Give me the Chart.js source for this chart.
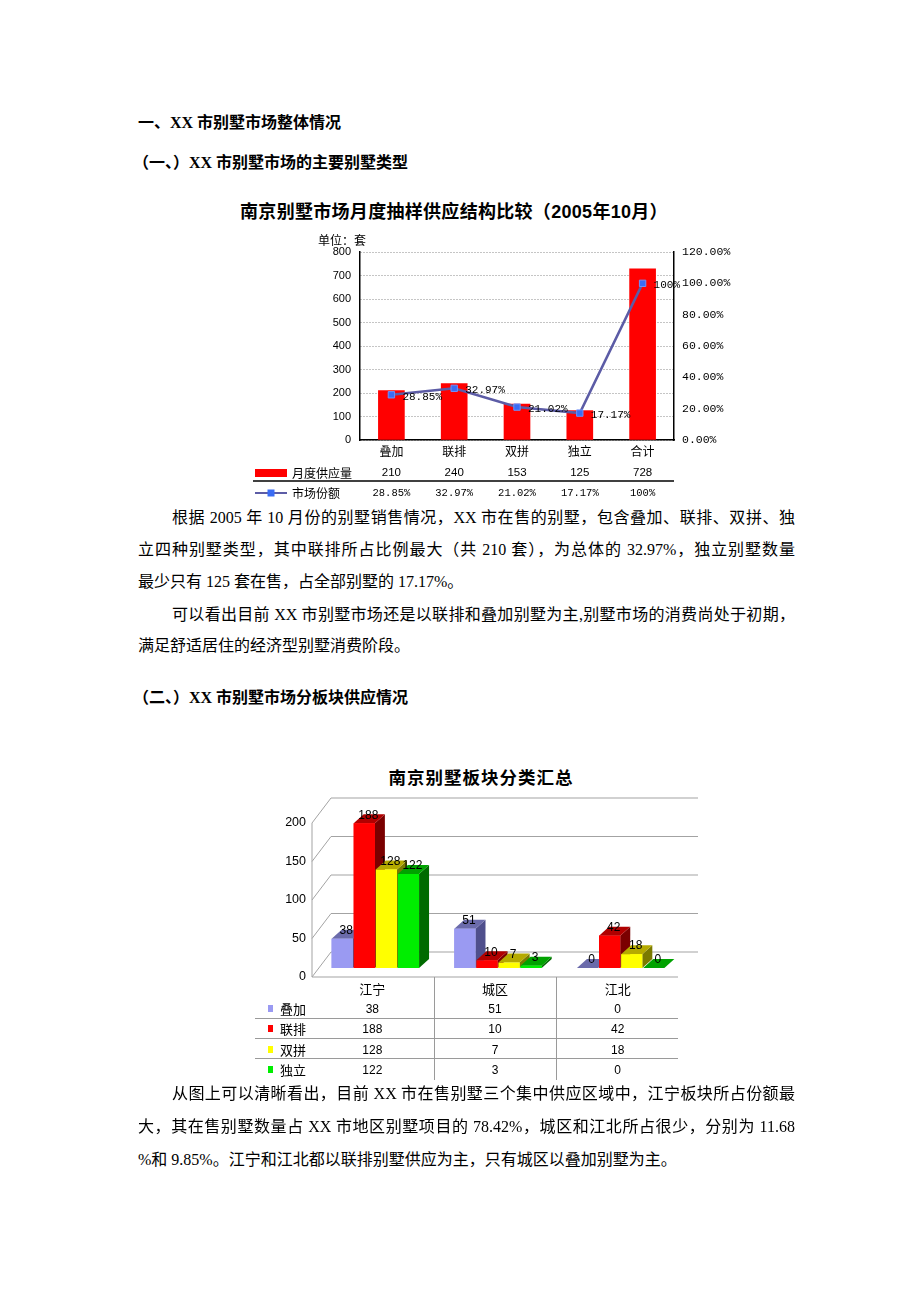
<!DOCTYPE html>
<html>
<head>
<meta charset="utf-8">
<script src="https://cdn.jsdelivr.net/npm/chart.js@4.4.1/dist/chart.umd.min.js"></script>
<style>
  body { margin: 0; background: #fff; }
  #page {
    position: relative; width: 920px; height: 1302px; overflow: hidden; background: #fff;
    font-family: "Liberation Serif", "Noto Sans CJK SC", serif; color: #000;
  }
  .t { position: absolute; line-height: 20px; font-size: 16px; white-space: nowrap; }
  .h { font-weight: bold; }
  .j { white-space: normal; text-align: justify; text-align-last: justify; }
  .title { position: absolute; text-align: center; font-weight: bold; line-height: 22px;
    font-family: "Liberation Sans", "Noto Sans CJK SC", sans-serif; white-space: nowrap; }
  canvas { position: absolute; }
</style>
</head>
<body>
<div id="page">
  <div class="t h" style="left:138px;top:113px;">一、XX 市别墅市场整体情况</div>
  <div class="t h" style="left:133px;top:153px;">（一、）XX 市别墅市场的主要别墅类型</div>

  <div class="title" style="left:233px;top:201px;width:442px;font-size:18px;letter-spacing:0.3px;">南京别墅市场月度抽样供应结构比较（2005年10月）</div>
  <canvas id="supplyChart" width="500" height="275" style="left:240px;top:228px;"></canvas>

  <div class="t j" style="left:172px;top:508px;width:623px;">根据 2005 年 10 月份的别墅销售情况，XX 市在售的别墅，包含叠加、联排、双拼、独</div>
  <div class="t j" style="left:138px;top:540px;width:657px;">立四种别墅类型，其中联排所占比例最大（共 210 套），为总体的 32.97%，独立别墅数量</div>
  <div class="t" style="left:138px;top:572px;">最少只有 125 套在售，占全部别墅的 17.17%。</div>
  <div class="t j" style="left:172px;top:605px;width:623px;">可以看出目前 XX 市别墅市场还是以联排和叠加别墅为主,别墅市场的消费尚处于初期，</div>
  <div class="t" style="left:138px;top:636px;">满足舒适居住的经济型别墅消费阶段。</div>

  <div class="t h" style="left:133px;top:688px;">（二、）XX 市别墅市场分板块供应情况</div>

  <div class="title" style="left:370px;top:767px;width:222px;font-size:17.5px;letter-spacing:1px;">南京别墅板块分类汇总</div>
  <canvas id="districtChart" width="460" height="300" style="left:240px;top:790px;"></canvas>

  <div class="t j" style="left:172px;top:1084px;width:623px;">从图上可以清晰看出，目前 XX 市在售别墅三个集中供应区域中，江宁板块所占份额最</div>
  <div class="t j" style="left:138px;top:1117px;width:657px;">大，其在售别墅数量占 XX 市地区别墅项目的 78.42%，城区和江北所占很少，分别为 11.68</div>
  <div class="t" style="left:138px;top:1150px;">%和 9.85%。江宁和江北都以联排别墅供应为主，只有城区以叠加别墅为主。</div>
</div>

<script>
// chart 1: monthly supply by villa type
const typeLabels = ["叠加", "联排", "双拼", "独立", "合计"];
const monthlySupply = [210, 240, 153, 125, 728];
const marketShare = [28.85, 32.97, 21.02, 17.17, 100];
const shareText = ["28.85%", "32.97%", "21.02%", "17.17%", "100%"];

// chart 2: supply by district
const districts = ["江宁", "城区", "江北"];
const villaTypes = ["叠加", "联排", "双拼", "独立"];
const stackedCounts = [38, 51, 0];
const rowCounts = [188, 10, 42];
const semiCounts = [128, 7, 18];
const detachedCounts = [122, 3, 0];

const CJK = '"Noto Sans CJK SC", sans-serif';
const SANS = '"Liberation Sans", Arial, sans-serif';
const MONO = '"Liberation Mono", monospace';

const LINE_COLOR = "#5c5ca6";
const MARK_COLOR = "#3a6cf4";

const supplyExtras = {
  id: "supplyExtras",
  afterDraw(chart) {
    const { ctx, scales: { x } } = chart;
    const pts = chart.getDatasetMeta(1).data;
    ctx.save();
    ctx.fillStyle = "#000";
    ctx.textBaseline = "middle";
    ctx.textAlign = "left";
    ctx.font = `11px ${MONO}`;
    pts.forEach((p, i) => ctx.fillText(shareText[i], p.x + 11, p.y + 2));

    ctx.font = `12px ${CJK}`;
    ctx.fillText("单位：套", 78, 12);

    // data table under the axis
    const row1 = 245, row2 = 265;
    ctx.fillStyle = "#ff0000";
    ctx.fillRect(15, 241, 32, 8);
    ctx.fillStyle = "#000";
    ctx.font = `12px ${CJK}`;
    ctx.fillText("月度供应量", 52, row1);
    ctx.fillText("市场份额", 52, row2);

    ctx.strokeStyle = "#000";
    ctx.lineWidth = 1.5;
    ctx.beginPath();
    ctx.moveTo(13, 253);
    ctx.lineTo(chart.chartArea.right, 253);
    ctx.stroke();

    ctx.strokeStyle = LINE_COLOR;
    ctx.lineWidth = 2;
    ctx.beginPath();
    ctx.moveTo(15, row2);
    ctx.lineTo(47, row2);
    ctx.stroke();
    ctx.fillStyle = MARK_COLOR;
    ctx.fillRect(27.5, row2 - 3.5, 7, 7);

    ctx.fillStyle = "#000";
    ctx.textAlign = "center";
    monthlySupply.forEach((v, i) => {
      ctx.font = `11.5px ${SANS}`;
      ctx.fillText(String(v), x.getPixelForValue(i), row1);
      ctx.font = `10.5px ${MONO}`;
      ctx.fillText(shareText[i], x.getPixelForValue(i), row2);
    });
    ctx.restore();
  },
};

new Chart(document.getElementById("supplyChart"), {
  data: {
    labels: typeLabels,
    datasets: [
      {
        type: "bar", label: "月度供应量", data: monthlySupply, yAxisID: "y",
        backgroundColor: "#ff0000", barThickness: 26, order: 2,
      },
      {
        type: "line", label: "市场份额", data: marketShare, yAxisID: "y2",
        borderColor: LINE_COLOR, borderWidth: 2.5, tension: 0,
        pointStyle: "rect", pointRadius: 4.5, pointBorderWidth: 1,
        pointBackgroundColor: MARK_COLOR, pointBorderColor: "#7090f8", order: 1,
      },
    ],
  },
  options: {
    responsive: false,
    animation: false,
    layout: { padding: { top: 24, left: 0, right: 0, bottom: 0 } },
    plugins: { legend: { display: false }, tooltip: { enabled: false } },
    scales: {
      x: {
        grid: { display: false, drawTicks: false },
        border: { color: "#000", width: 1.5 },
        ticks: { color: "#000", font: { family: CJK, size: 12 }, padding: 4 },
        afterFit(s) { s.height = 63; },
      },
      y: {
        min: 0, max: 800,
        ticks: { stepSize: 100, color: "#000", font: { family: SANS, size: 11 }, padding: 9 },
        grid: { color: "#8a8a8a", drawTicks: false },
        border: { color: "#000", width: 1.5, dash: [1, 2] },
        afterFit(s) { s.width = 120; },
      },
      y2: {
        position: "right", min: 0, max: 120,
        ticks: {
          stepSize: 20, color: "#000", font: { family: MONO, size: 11.5 }, padding: 8,
          callback: (v) => v.toFixed(2) + "%",
        },
        grid: { drawOnChartArea: false, drawTicks: false },
        border: { color: "#000", width: 1.5 },
        afterFit(s) { s.width = 66; },
      },
    },
  },
  plugins: [supplyExtras],
});

// 3d look for chart 2
const barStyles = [
  { front: "#9a9af2", top: "#6b6bab", side: "#4f4f8c" },
  { front: "#ff0000", top: "#b00000", side: "#7a0000" },
  { front: "#ffff00", top: "#b5aa00", side: "#7a7a00" },
  { front: "#00ee00", top: "#00a200", side: "#006a00" },
];
const DX = 10, DY = -9;

const district3d = {
  id: "district3d",
  beforeDatasetsDraw(chart) {
    const { ctx, chartArea: a, scales: { y } } = chart;
    ctx.save();
    ctx.strokeStyle = "#a3a3a3";
    ctx.lineWidth = 1;
    y.ticks.forEach((t) => {
      const py = y.getPixelForValue(t.value);
      ctx.beginPath();
      ctx.moveTo(a.left - 2, py + 9);
      ctx.lineTo(a.left + 17, py - 16);
      ctx.lineTo(a.right + 16, py - 16);
      ctx.stroke();
    });
    ctx.beginPath();
    ctx.moveTo(a.left - 2, y.getPixelForValue(200) + 9);
    ctx.lineTo(a.left - 2, a.bottom + 9);
    ctx.lineTo(a.right - 4, a.bottom + 9);
    ctx.stroke();
    ctx.restore();
  },
  // redraw each series left to right: side face, top face, then the front face from the library
  afterDatasetsDraw(chart) {
    const { ctx } = chart;
    ctx.save();
    chart.data.datasets.forEach((ds, di) => {
      const st = barStyles[di];
      chart.getDatasetMeta(di).data.forEach((bar) => {
        const { x, y, base, width } = bar.getProps(["x", "y", "base", "width"], true);
        const l = x - width / 2, r = x + width / 2;
        ctx.fillStyle = st.side;
        ctx.beginPath();
        ctx.moveTo(r, y);
        ctx.lineTo(r + DX, y + DY);
        ctx.lineTo(r + DX, base + DY);
        ctx.lineTo(r, base);
        ctx.closePath();
        ctx.fill();
        ctx.fillStyle = st.top;
        ctx.beginPath();
        ctx.moveTo(l, y);
        ctx.lineTo(r, y);
        ctx.lineTo(r + DX, y + DY);
        ctx.lineTo(l + DX, y + DY);
        ctx.closePath();
        ctx.fill();
        bar.draw(ctx);
      });
    });
    ctx.fillStyle = "#000";
    ctx.font = `12px ${SANS}`;
    ctx.textAlign = "center";
    ctx.textBaseline = "middle";
    chart.data.datasets.forEach((ds, di) => {
      chart.getDatasetMeta(di).data.forEach((bar, i) => {
        ctx.fillText(String(ds.data[i]), bar.x + 4, bar.y - 8);
      });
    });
    ctx.restore();
  },
  afterDraw(chart) {
    const { ctx, scales: { x } } = chart;
    const rows = [stackedCounts, rowCounts, semiCounts, detachedCounts];
    const rowY = [220, 240, 261, 281];
    const sepY = [228, 248, 268];
    ctx.save();
    ctx.strokeStyle = "#9a9a9a";
    ctx.lineWidth = 1;
    sepY.forEach((yy) => {
      ctx.beginPath();
      ctx.moveTo(15, yy + 0.5);
      ctx.lineTo(438, yy + 0.5);
      ctx.stroke();
    });
    for (let i = 0; i < districts.length - 1; i++) {
      const xx = Math.round((x.getPixelForValue(i) + x.getPixelForValue(i + 1)) / 2 - 3) + 0.5;
      ctx.beginPath();
      ctx.moveTo(xx, 187);
      ctx.lineTo(xx, 290);
      ctx.stroke();
    }
    ctx.fillStyle = "#000";
    ctx.textBaseline = "middle";
    ctx.textAlign = "center";
    ctx.font = `13px ${CJK}`;
    districts.forEach((d, i) => ctx.fillText(d, x.getPixelForValue(i) - 3, 199));
    rows.forEach((vals, r) => {
      ctx.fillStyle = barStyles[r].front;
      ctx.fillRect(28, rowY[r] - 5, 5, 7);
      ctx.fillStyle = "#000";
      ctx.textAlign = "left";
      ctx.font = `13px ${CJK}`;
      ctx.fillText(villaTypes[r], 40, rowY[r] - 1);
      ctx.textAlign = "center";
      ctx.font = `12px ${SANS}`;
      vals.forEach((v, i) => ctx.fillText(String(v), x.getPixelForValue(i) - 3, rowY[r]));
    });
    ctx.restore();
  },
};

new Chart(document.getElementById("districtChart"), {
  type: "bar",
  data: {
    labels: districts,
    datasets: [stackedCounts, rowCounts, semiCounts, detachedCounts].map((d, i) => ({
      label: villaTypes[i],
      data: d,
      backgroundColor: barStyles[i].front,
      borderWidth: 0,
      categoryPercentage: 0.72,
      barPercentage: 0.96,
    })),
  },
  options: {
    responsive: false,
    animation: false,
    layout: { padding: { top: 24, left: 0, right: 18, bottom: 122 } },
    plugins: { legend: { display: false }, tooltip: { enabled: false } },
    scales: {
      x: { display: false },
      y: {
        min: 0, max: 200,
        ticks: { stepSize: 50, color: "#000", font: { family: SANS, size: 12.5 }, padding: 8, labelOffset: 9 },
        grid: { display: false, drawTicks: false },
        border: { display: false },
        afterFit(s) { s.width = 74; },
      },
    },
  },
  plugins: [district3d],
});
</script>
</body>
</html>
